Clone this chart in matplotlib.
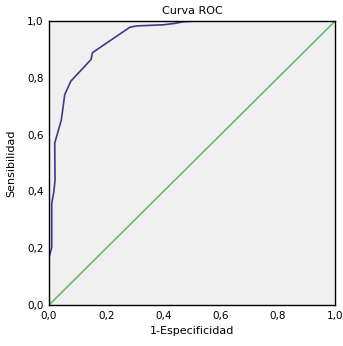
import matplotlib

matplotlib.use("Agg")
import matplotlib.pyplot as plt
from matplotlib.ticker import FuncFormatter

# curve
fpr = [0.0, 0.0095, 0.0095, 0.017, 0.021, 0.02, 0.043, 0.055, 0.076, 0.147, 0.152,
       0.282, 0.305, 0.40, 0.44, 0.47, 0.51]
tpr = [0.168, 0.203, 0.357, 0.40, 0.44, 0.57, 0.652, 0.741, 0.788, 0.865, 0.889,
       0.978, 0.983, 0.987, 0.992, 0.998, 1.0]
diag = [0.0, 1.0]
ticks = [0.0, 0.2, 0.4, 0.6, 0.8, 1.0]

plt.rcParams["font.family"] = "DejaVu Sans"
plt.rcParams["font.size"] = 7.5

fig = plt.figure(figsize=(3.43, 3.46), dpi=100)
ax = fig.add_axes([0.1429, 0.1185, 0.834, 0.8205])
ax.set_facecolor("#f0f0f0")
ax.plot(fpr, tpr, color="#3b3b8e", lw=1.2)
ax.plot(diag, diag, color="#5cb85c", lw=1.1)
ax.set_xlim(0, 1)
ax.set_ylim(0, 1)
ax.set_xticks(ticks)
ax.set_yticks(ticks)
fmt = FuncFormatter(lambda v, p: f"{v:.1f}".replace(".", ","))
ax.xaxis.set_major_formatter(fmt)
ax.yaxis.set_major_formatter(fmt)
ax.tick_params(length=0, pad=4)
for s in ax.spines.values():
    s.set_linewidth(1.0)
ax.set_title("Curva ROC", fontsize=8, pad=5)
ax.set_xlabel("1-Especificidad", fontsize=8, labelpad=4)
ax.set_ylabel("Sensibilidad", fontsize=8, labelpad=8)
fig.savefig("out.png", dpi=100)
